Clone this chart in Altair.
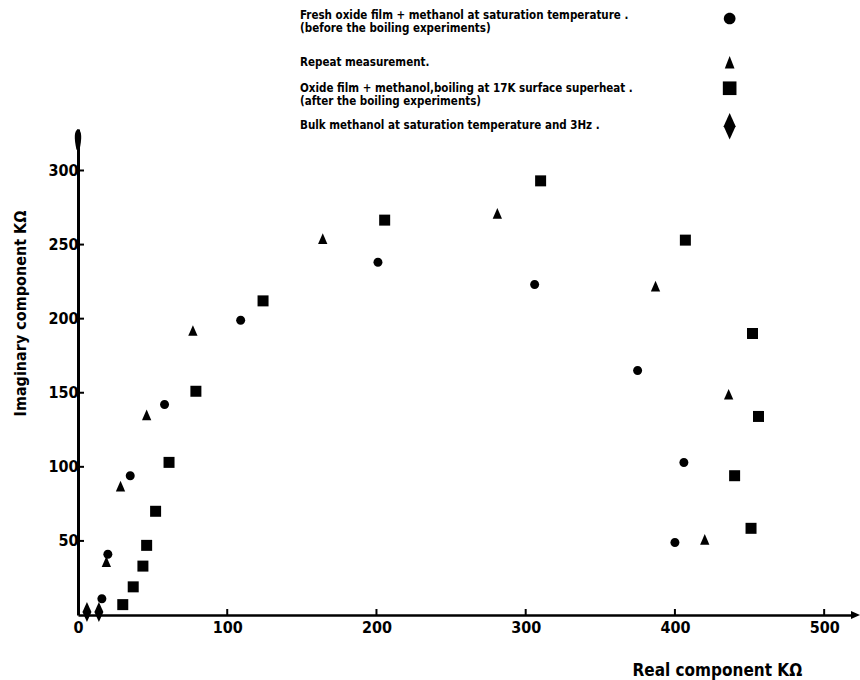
import altair as alt
import pandas as pd

# ---------------- data ----------------
series = [
    "Fresh oxide film + methanol at saturation temperature .|(before the boiling experiments)",
    "Repeat measurement.",
    "Oxide film + methanol,boiling at 17K surface superheat .|(after the boiling experiments)",
    "Bulk methanol at saturation temperature and 3Hz .",
]

fresh_x = [16, 20, 35, 58, 109, 201, 306, 375, 406, 400]
fresh_y = [11, 41, 94, 142, 199, 238, 223, 165, 103, 49]

repeat_x = [19, 28.5, 46, 77, 164, 281, 387, 436, 420]
repeat_y = [36, 87, 135, 192, 254, 271, 222, 149, 51]

boil_x = [30, 37, 43.5, 46, 52, 61, 79, 124, 205.5, 310, 407, 452, 456, 440, 451]
boil_y = [7, 19, 33, 47, 70, 103, 151, 212, 266.5, 293, 253, 190, 134, 94, 58.5]

bulk_x = [6, 14]
bulk_y = [2, 2]

x_tick_labels = [0, 100, 200, 300, 400, 500]
y_tick_labels = [50, 100, 150, 200, 250, 300]

X_MAX = 520
Y_MAX = 328

# ---------------- styling ----------------
FONT = "DejaVu Sans Condensed, Liberation Sans Narrow, Liberation Sans, sans-serif"

# plot marker shapes (centred)
shape_paths = [
    "M0.9,0A0.9,0.9,0,1,1,-0.9,0A0.9,0.9,0,1,1,0.9,0Z",     # circle
    "M0,-1.07L0.93,1.07L-0.93,1.07Z",                          # triangle
    "M-1.1,-1.1L1.1,-1.1L1.1,1.1L-1.1,1.1Z",                    # square
    "M0,-2L0.9,0L0,2L-0.9,0Z",                                 # tall diamond
]

# legend symbols: drawn to the right of the (left-aligned) legend texts
O = 67.1
legend_paths = [
    f"M{O+0.9},0A0.9,0.9,0,1,1,{O-0.9},0A0.9,0.9,0,1,1,{O+0.9},0Z",
    f"M{O},-3.95M{O},1.7M{O},-1.45L{O+0.75},0.45L{O-0.75},0.45Z",
    f"M{O-1.05},-1.55L{O+1.05},-1.55L{O+1.05},0.55L{O-1.05},0.55Z",
    f"M{O},-2.4L{O+0.92},-0.35L{O},1.7L{O-0.92},-0.35Z",
]

rows = []
for name, xs, ys in zip(series, [fresh_x, repeat_x, boil_x, bulk_x],
                        [fresh_y, repeat_y, boil_y, bulk_y]):
    for xv, yv in zip(xs, ys):
        rows.append({"series": name, "real": xv, "imag": yv})
df = pd.DataFrame(rows)

x_scale = alt.Scale(domain=[0, X_MAX], nice=False, zero=False)
y_scale = alt.Scale(domain=[0, Y_MAX], nice=False, zero=False)

x_enc = alt.X(
    "real:Q", scale=x_scale,
    axis=alt.Axis(
        values=x_tick_labels, ticks=False, grid=False,
        domain=True, domainColor="black", domainWidth=2.5,
        labelFont=FONT, labelFontSize=16, labelFontWeight="bold", labelColor="black",
        labelPadding=4, labelFlush=False,
        title="Real component KΩ", titleFont=FONT, titleFontSize=17,
        titleFontWeight="bold", titleColor="black",
        titleX=554, titleY=55, titleAlign="left", titleBaseline="middle",
    ),
)
y_enc = alt.Y(
    "imag:Q", scale=y_scale,
    axis=alt.Axis(
        values=y_tick_labels, ticks=False, grid=False,
        domain=True, domainColor="black", domainWidth=3,
        labelFont=FONT, labelFontSize=16, labelFontWeight="bold", labelColor="black",
        labelPadding=0, labelFlush=False,
        title="Imaginary component KΩ", titleFont=FONT, titleFontSize=16,
        titleFontWeight="bold", titleColor="black",
        titleX=-58, titleY=184, titleAlign="center", titleBaseline="middle",
    ),
)

points = alt.Chart(df).mark_point(
    filled=True, color="black", opacity=1, size=100, strokeWidth=0
).encode(
    x=x_enc,
    y=y_enc,
    shape=alt.Shape("series:N", scale=alt.Scale(domain=series, range=shape_paths), legend=None),
)

legend_layer = alt.Chart(df).transform_filter("false").mark_point(
    filled=True, color="black", opacity=1, strokeWidth=0
).encode(
    x=x_enc,
    y=y_enc,
    shape=alt.Shape(
        "series:N",
        scale=alt.Scale(domain=series, range=legend_paths),
        legend=alt.Legend(
            title=None, orient="none", legendX=209, legendY=-117,
            direction="vertical",
            labelExpr="split(datum.label, '|')",
            labelAlign="left", labelBaseline="alphabetic",
            labelOffset=0, labelLimit=800,
            labelFont=FONT, labelFontSize=11.5, labelFontWeight="bold", labelColor="black",
            symbolSize=169, symbolFillColor="black", symbolStrokeColor="black",
            symbolStrokeWidth=0, symbolOpacity=1, rowPadding=4,
        ),
    ),
)

# inward tick marks on both axes
xt = pd.DataFrame({"real": x_tick_labels[1:], "imag": [0] * (len(x_tick_labels) - 1)})
yt = pd.DataFrame({"real": [0] * len(y_tick_labels), "imag": y_tick_labels})

xticks = alt.Chart(xt).mark_point(
    shape="M0,0L0,-1.2", filled=False, stroke="black", strokeWidth=2, size=100, opacity=1
).encode(x=x_enc, y=y_enc)
yticks = alt.Chart(yt).mark_point(
    shape="M0,0L1.2,0", filled=False, stroke="black", strokeWidth=2, size=100, opacity=1
).encode(x=x_enc, y=y_enc)

# axis arrowheads at the ends of the axes
ya = pd.DataFrame({"real": [0], "imag": [Y_MAX - 8]})
xa = pd.DataFrame({"real": [X_MAX], "imag": [0]})
yarrow = alt.Chart(ya).mark_point(
    shape="M0,-2.3C0.8,-2.0,0.8,-0.5,0.3,1.8L-0.3,1.8C-0.8,-0.5,-0.8,-2.0,0,-2.3Z",
    filled=True, color="black", size=100, opacity=1, strokeWidth=0
).encode(x=x_enc, y=y_enc)
xarrow = alt.Chart(xa).mark_point(
    shape="M1.2,0L-0.6,-0.8L-0.6,0.8Z", filled=True, color="black", size=100, opacity=1,
    strokeWidth=0
).encode(x=x_enc, y=y_enc)

chart = alt.layer(points, legend_layer, xticks, yticks, yarrow, xarrow).resolve_scale(
    shape="independent"
).properties(
    width=776, height=486,
    padding={"left": 78, "top": 129, "right": 6, "bottom": 65},
    autosize=alt.AutoSizeParams(type="none"),
    background="white",
).configure(font=FONT).configure_view(stroke=None)

chart.save("out.html", embed_options={"renderer": "svg", "actions": False})
